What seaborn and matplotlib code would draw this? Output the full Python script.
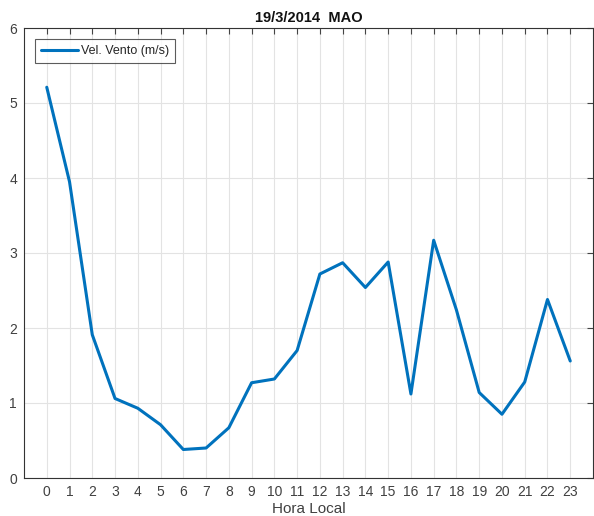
import matplotlib
matplotlib.use("Agg")
import matplotlib.pyplot as plt
import seaborn as sns
import pandas as pd

hours = list(range(24))
wind = [5.21, 3.95, 1.91, 1.06, 0.93, 0.71, 0.38, 0.40, 0.67, 1.27, 1.32, 1.70,
        2.72, 2.87, 2.54, 2.88, 1.12, 3.17, 2.24, 1.14, 0.85, 1.28, 2.38, 1.56]
title = "19/3/2014  MAO"
xlabel = "Hora Local"
series_name = "Vel. Vento (m/s)"

sns.set_theme(style="white")
plt.rcParams['font.family'] = ['Liberation Sans', 'DejaVu Sans']

df = pd.DataFrame({"hora": hours, "vel": wind})

fig = plt.figure(figsize=(5.94, 5.16), dpi=100)
ax = fig.add_axes([24/594, 1-478/516, (593-24)/594, (478-28)/516])
sns.lineplot(data=df, x="hora", y="vel", ax=ax, color="#0072BD", linewidth=2.2,
             label=series_name)

ax.set_xlim(-1, 24)
ax.set_ylim(0, 6)
ax.set_xticks(hours)
ax.set_yticks(range(7))
ax.grid(True, color="#e3e3e3", linewidth=0.8)
ax.set_axisbelow(True)
for s in ax.spines.values():
    s.set_color("#333333")
    s.set_linewidth(0.8)
ax.tick_params(direction="in", top=True, right=True, length=4.5, width=0.8,
               colors="#444444", labelsize=10, labelcolor="#404040", pad=5,
               labeltop=False, labelright=False)
ax.set_xlabel(xlabel, fontsize=11, color="#404040", labelpad=2)
ax.set_ylabel("")
ax.set_title(title, fontsize=10.5, fontweight="bold", color="#111111", pad=4)
leg = ax.legend(loc="upper left", fontsize=9, frameon=True, fancybox=False,
                edgecolor="#333333", handlelength=3.0, borderaxespad=0.9,
                borderpad=0.45, handletextpad=0.2)
leg.get_frame().set_linewidth(0.8)
fig.savefig("out.png", dpi=100)
